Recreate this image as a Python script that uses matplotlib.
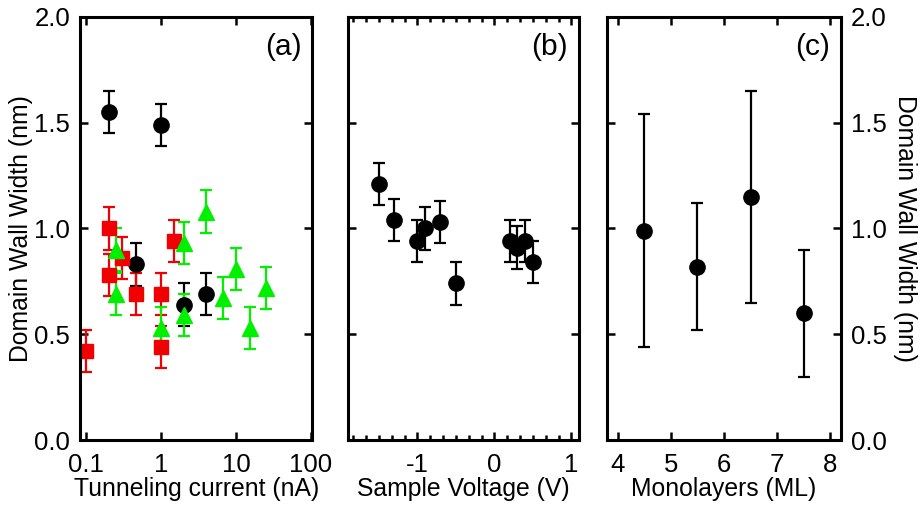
import matplotlib

matplotlib.use("Agg")
import matplotlib.pyplot as plt
from matplotlib.ticker import AutoMinorLocator, FixedLocator, FuncFormatter, LogLocator, NullFormatter

plt.rcParams["font.family"] = ["Liberation Sans", "DejaVu Sans"]

# (a) domain wall width vs tunneling current
cur_black = [0.2, 1.0, 0.46, 2.0, 4.0]
dw_black = [1.55, 1.49, 0.83, 0.64, 0.69]
err_black = [0.1, 0.1, 0.1, 0.1, 0.1]

cur_red = [0.1, 0.2, 0.2, 0.3, 0.46, 1.0, 1.0, 1.5]
dw_red = [0.42, 1.00, 0.78, 0.86, 0.69, 0.69, 0.44, 0.94]
err_red = [0.1, 0.1, 0.1, 0.1, 0.1, 0.1, 0.1, 0.1]

cur_green = [0.25, 0.25, 1.0, 2.0, 2.0, 4.0, 6.8, 10.0, 15.5, 25.0]
dw_green = [0.90, 0.69, 0.53, 0.93, 0.59, 1.08, 0.67, 0.81, 0.53, 0.72]
err_green = [0.1, 0.1, 0.1, 0.1, 0.1, 0.1, 0.1, 0.1, 0.1, 0.1]

# (b) domain wall width vs sample voltage
volt = [-1.5, -1.3, -1.0, -0.9, -0.7, -0.5, 0.2, 0.3, 0.4, 0.5]
dw_volt = [1.21, 1.04, 0.94, 1.00, 1.03, 0.74, 0.94, 0.91, 0.94, 0.84]
err_volt = [0.1, 0.1, 0.1, 0.1, 0.1, 0.1, 0.1, 0.1, 0.1, 0.1]

# (c) domain wall width vs film thickness
ml = [4.5, 5.5, 6.5, 7.5]
dw_ml = [0.99, 0.82, 1.15, 0.60]
err_ml = [0.55, 0.30, 0.50, 0.30]

FS_TICK = 18.5
FS_LAB = 17.8
FS_PANEL = 21.5
RED = "#f00000"
GREEN = "#00f000"

fig = plt.figure(figsize=(9.21, 5.13), dpi=100)
ax_a = fig.add_axes([0.0869, 0.1423, 0.2524, 0.8246])
ax_b = fig.add_axes([0.3779, 0.1423, 0.2508, 0.8246])
ax_c = fig.add_axes([0.6591, 0.1423, 0.2541, 0.8246])


def style(ax):
    for s in ax.spines.values():
        s.set_linewidth(2.2)
    ax.tick_params(which="both", direction="in", top=True, right=True,
                   width=1.8, labelsize=FS_TICK)
    ax.tick_params(which="major", length=6, pad=7)
    ax.tick_params(axis="x", which="major", pad=9)
    ax.tick_params(which="minor", length=3.5)
    ax.set_ylim(0, 2.0)
    ax.yaxis.set_major_locator(FixedLocator([0, 0.5, 1.0, 1.5, 2.0]))
    ax.yaxis.set_major_formatter(FuncFormatter(lambda v, p: f"{v:.1f}"))


def panel_label(ax, s):
    ax.text(0.952, 0.962, s, transform=ax.transAxes, ha="right", va="top",
            fontsize=FS_PANEL)


ebkw = dict(capsize=4, elinewidth=1.6, capthick=1.6, ls="none")

# panel (a)
ax_a.set_xscale("log")
ax_a.errorbar(cur_black, dw_black, yerr=err_black, fmt="o", color="black",
              ms=11, **ebkw)
ax_a.errorbar(cur_red, dw_red, yerr=err_red, fmt="s", color=RED, ms=10, **ebkw)
ax_a.errorbar(cur_green, dw_green, yerr=err_green, fmt="^", color=GREEN,
              ms=11, **ebkw)
ax_a.set_xlim(0.083, 105)
style(ax_a)
ax_a.xaxis.set_major_locator(FixedLocator([0.1, 1, 10, 100]))
ax_a.xaxis.set_major_formatter(FuncFormatter(lambda v, p: f"{v:g}"))
ax_a.xaxis.set_minor_locator(LogLocator(base=10, subs=range(2, 10)))
ax_a.xaxis.set_minor_formatter(NullFormatter())
ax_a.set_xlabel("Tunneling current (nA)", fontsize=FS_LAB, labelpad=0)
ax_a.set_ylabel("Domain Wall Width (nm)", fontsize=FS_LAB, labelpad=1)
panel_label(ax_a, "(a)")

# panel (b)
ax_b.errorbar(volt, dw_volt, yerr=err_volt, fmt="o", color="black", ms=11,
              **ebkw)
ax_b.set_xlim(-1.9, 1.1)
style(ax_b)
ax_b.xaxis.set_major_locator(FixedLocator([-1, 0, 1]))
ax_b.xaxis.set_major_formatter(FuncFormatter(lambda v, p: f"{v:g}"))
ax_b.xaxis.set_minor_locator(AutoMinorLocator(6))
ax_b.tick_params(labelleft=False)
ax_b.set_xlabel("Sample Voltage (V)", fontsize=FS_LAB, labelpad=0)
panel_label(ax_b, "(b)")

# panel (c)
ax_c.errorbar(ml, dw_ml, yerr=err_ml, fmt="o", color="black", ms=11, **ebkw)
ax_c.set_xlim(3.8, 8.2)
style(ax_c)
ax_c.xaxis.set_major_locator(FixedLocator([4, 5, 6, 7, 8]))
ax_c.tick_params(labelleft=False, labelright=True)
ax_c.set_xlabel("Monolayers (ML)", fontsize=FS_LAB, labelpad=0)
ax_c.yaxis.set_label_position("right")
ax_c.set_ylabel("Domain Wall Width (nm)", fontsize=FS_LAB, rotation=270,
                labelpad=22)
panel_label(ax_c, "(c)")

fig.savefig("out.png", dpi=100)
